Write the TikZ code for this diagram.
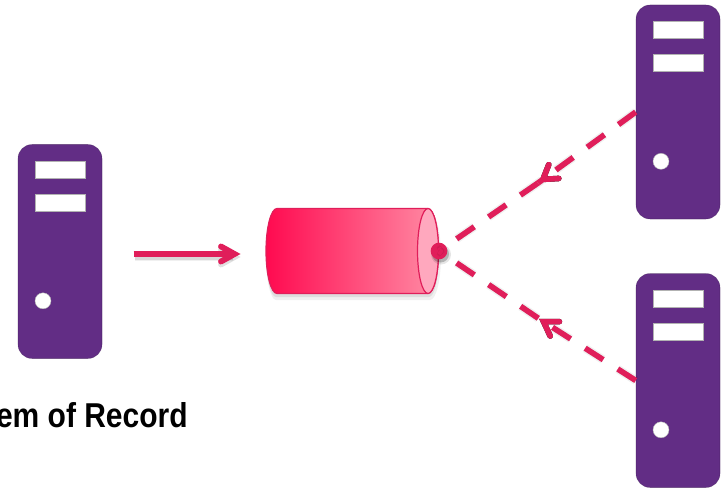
\documentclass[tikz,border=0pt]{standalone}
\usepackage{fontspec}
\setmainfont{Liberation Sans}
\usetikzlibrary{decorations.markings,calc}
\definecolor{srv}{HTML}{622D85}
\definecolor{pnk}{HTML}{E01E5A}
\definecolor{cyl1}{HTML}{FF0A50}
\definecolor{cyl2}{HTML}{FF8CA5}
\definecolor{capc}{HTML}{FFA8BE}
\tikzset{
  serverbox/.style={minimum width=63pt,minimum height=160.5pt,inner sep=0pt,fill=srv,rounded corners=10.5pt,draw=black!45!srv,draw opacity=.35,line width=.4pt},
  barbox/.style={fill=white,draw=gray!60,line width=.3pt,minimum width=37.5pt,minimum height=12.75pt,inner sep=0pt},
  ledbox/.style={circle,fill=white,draw=gray!60,line width=.3pt,minimum size=12pt,inner sep=0pt},
  flow/.style={line width=4.2pt,draw=pnk},
  dashflow/.style={flow,dash pattern=on 16pt off 13pt},
  softA/.style={draw=black,opacity=.06,line width=6.4pt,dash pattern=on 16pt off 13pt},
  softB/.style={draw=black,opacity=.10,line width=4.2pt,dash pattern=on 16pt off 13pt},
  tipmark/.style={decorate,decoration={markings,mark=at position 1 with {\draw[solid,line width=4.2pt,draw=#1,line cap=round,line join=miter] (-14.5pt,6.4pt) -- (-4.5pt,0) -- (-14.5pt,-6.4pt);}}}
}
\newcommand{\serverat}[2]{%
  \node[serverbox] (#2) at (#1) {};
  \node[barbox] (#2b1) at ($(#2.center)+(0pt,61.5pt)$) {};
  \node[barbox] (#2b2) at ($(#2.center)+(0pt,36.9pt)$) {};
  \node[ledbox] (#2led) at ($(#2.center)+(-12.75pt,-37pt)$) {};
}
\begin{document}
\begin{tikzpicture}[x=0.75pt,y=-0.75pt]
\useasboundingbox (0,0) rectangle (723,488);
\clip (0,0) rectangle (723,488);
% servers
\serverat{60,251.5}{srvA}
\serverat{678,112}{srvB}
\serverat{678,380.5}{srvC}
% cylinder shadow
\fill[black,opacity=.06] (276,212) -- (430,212) arc[start angle=-90,end angle=90,x radius=11,y radius=44] -- (276,300) arc[start angle=90,end angle=270,x radius=10,y radius=44] -- cycle;
\fill[black,opacity=.08] (276,212) -- (429,212) arc[start angle=-90,end angle=90,x radius=10,y radius=42.5] -- (276,297) arc[start angle=90,end angle=270,x radius=10,y radius=42.5] -- cycle;
% cylinder
\path[left color=cyl1,right color=cyl2,draw=pnk,line width=.9pt]
  (277,208.5) -- (428,208.5) arc[start angle=-90,end angle=90,x radius=10.5,y radius=42.5] -- (277,293.5) arc[start angle=90,end angle=270,x radius=11,y radius=42.5] -- cycle;
\draw[draw=pnk,fill=capc,line width=.9pt] (428,251) ellipse [x radius=10.5,y radius=42.5];
% dot
\fill[black,opacity=.10] (441,254.5) circle (10);
\fill[black,opacity=.22] (440.5,254) circle (8.5);
\node[circle,fill=pnk,minimum size=12.5pt,inner sep=0pt] (dot) at (439,251) {};
% left arrow
\coordinate (la) at (133.5,254);
\coordinate (lb) at (240.7,254);
\draw[black,opacity=.06,line width=6.6pt] ($(la)+(1,3)$) -- ($(lb)+(-8,3)$);
\draw[black,opacity=.10,line width=4.4pt] ($(la)+(1,3)$) -- ($(lb)+(-8,3)$);
\draw[black,opacity=.12,line width=4.4pt,line cap=round,line join=miter] ($(lb)+(-19.7,-4.5)$) -- ($(lb)+(-6.2,3)$) -- ($(lb)+(-19.7,10.5)$);
\draw[pnk,line width=4.4pt] (la) -- ($(lb)+(-8,0)$);
\draw[pnk,line width=4.4pt,line cap=round,line join=miter] ($(lb)+(-19.7,-7.5)$) -- ($(lb)+(-6.2,0)$) -- ($(lb)+(-19.7,7.5)$);
% dashed connectors, each in two runs meeting at the arrow tip
\coordinate (tipB) at (538,183);
\coordinate (tipC) at (538.3,318.3);
\foreach \s/\t in {srvB/tipB,srvC/tipC}{
  \draw[softA,shift={(1,3)}] (\s.west) -- (\t);
  \draw[softA,shift={(1,3)}] (\t) -- (dot.center);
  \draw[softB,shift={(1,3)}] (\s.west) -- (\t);
  \draw[softB,shift={(1,3)}] (\t) -- (dot.center);
  \path[shift={(1,3)},opacity=.12,tipmark=black] (\s.west) -- (\t);
  \draw[dashflow] (\s.west) -- (\t);
  \path[tipmark=pnk] (\s.west) -- (\t);
  \draw[dashflow] (\t) -- (dot.center);
}
% label
\node[anchor=base east,inner sep=0pt,font=\bfseries,yscale=1.15] (lbl) at (188,427) {\fontsize{22.5pt}{26pt}\selectfont System of Record};
\end{tikzpicture}
\end{document}
